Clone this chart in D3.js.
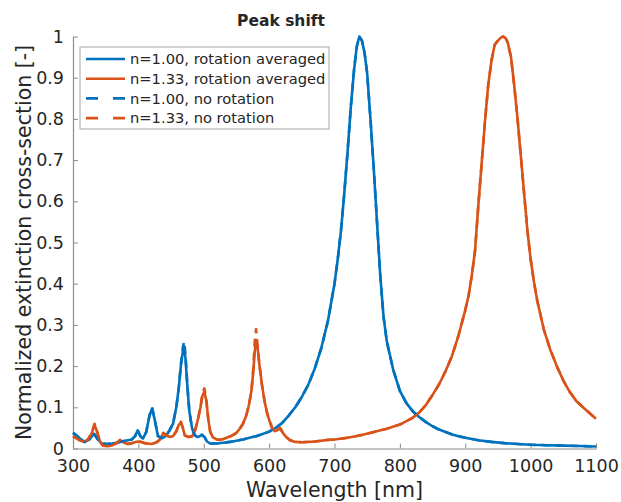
<!DOCTYPE html>
<html>
<head>
<meta charset="utf-8">
<script src="https://cdn.jsdelivr.net/npm/d3@7/dist/d3.min.js"></script>
<style>
  body { margin: 0; background: #fff; }
  svg text { font-family: "DejaVu Sans", sans-serif; fill: #262626; }
</style>
</head>
<body>
<svg id="chart" width="621" height="502"></svg>
<script>
// data
var blueWl = [300,305,310,318,325,332,338,344,352,360,370,380,390,395,399,403,407,412,417,421,425,430,436,442,448,453,458,462,465,468,470,472,475,478,482,486,490,494,497,501,505,510,520,530,540,550,560,570,580,590,600,610,620,630,640,650,660,670,680,690,700,705,710,715,720,725,730,734,738,742,746,750,755,760,765,770,775,780,790,800,810,820,830,840,850,860,870,880,890,900,920,940,960,980,1000,1025,1050,1075,1100];
var blueAvg = [0.038,0.032,0.025,0.016,0.022,0.036,0.022,0.012,0.011,0.012,0.015,0.019,0.022,0.03,0.044,0.03,0.024,0.04,0.08,0.097,0.07,0.03,0.025,0.03,0.045,0.06,0.1,0.15,0.2,0.235,0.245,0.22,0.15,0.09,0.05,0.033,0.028,0.03,0.033,0.028,0.017,0.012,0.012,0.014,0.016,0.019,0.022,0.026,0.03,0.035,0.041,0.05,0.062,0.08,0.1,0.125,0.155,0.195,0.245,0.31,0.4,0.46,0.53,0.62,0.72,0.83,0.92,0.975,1.0,0.99,0.96,0.91,0.8,0.68,0.55,0.42,0.32,0.26,0.19,0.14,0.11,0.09,0.076,0.064,0.054,0.046,0.04,0.034,0.03,0.026,0.02,0.016,0.013,0.011,0.009,0.008,0.007,0.006,0.005];
var blueNoRot = [0.038,0.032,0.025,0.016,0.022,0.037,0.022,0.012,0.011,0.012,0.015,0.019,0.022,0.03,0.045,0.03,0.024,0.04,0.08,0.1,0.07,0.03,0.025,0.03,0.045,0.06,0.1,0.15,0.205,0.245,0.26,0.23,0.15,0.09,0.05,0.033,0.028,0.03,0.034,0.028,0.017,0.012,0.012,0.014,0.016,0.019,0.022,0.026,0.03,0.035,0.041,0.05,0.062,0.08,0.1,0.125,0.155,0.195,0.245,0.31,0.4,0.46,0.53,0.62,0.72,0.83,0.92,0.975,1.0,0.99,0.96,0.91,0.8,0.68,0.55,0.42,0.32,0.26,0.19,0.14,0.11,0.09,0.076,0.064,0.054,0.046,0.04,0.034,0.03,0.026,0.02,0.016,0.013,0.011,0.009,0.008,0.007,0.006,0.005];

var orangeWl = [300,305,310,316,322,328,333,337,341,345,350,355,360,366,372,378,384,390,396,402,410,420,428,433,438,443,448,453,458,462,465,468,471,476,482,487,491,495,498,501,504,507,510,514,520,525,530,535,540,545,550,555,560,565,569,573,576,578,580,582,585,589,593,597,601,605,609,613,617,621,626,632,640,650,660,670,680,690,700,720,740,760,780,800,820,830,840,850,860,870,880,890,900,905,910,915,920,925,930,935,940,945,950,955,958,962,965,970,975,980,985,990,995,1000,1005,1010,1020,1030,1040,1050,1060,1070,1080,1090,1100];
var orangeAvg = [0.03,0.025,0.02,0.016,0.02,0.035,0.057,0.04,0.018,0.008,0.006,0.006,0.008,0.012,0.02,0.014,0.011,0.013,0.016,0.017,0.013,0.011,0.015,0.022,0.037,0.032,0.028,0.03,0.042,0.058,0.063,0.05,0.032,0.028,0.029,0.045,0.07,0.1,0.128,0.138,0.115,0.07,0.04,0.027,0.022,0.021,0.023,0.026,0.029,0.033,0.038,0.048,0.06,0.08,0.105,0.14,0.19,0.235,0.263,0.25,0.205,0.155,0.115,0.085,0.065,0.048,0.042,0.045,0.048,0.038,0.028,0.02,0.016,0.015,0.016,0.017,0.019,0.021,0.022,0.026,0.032,0.04,0.048,0.058,0.075,0.088,0.106,0.13,0.156,0.188,0.226,0.276,0.336,0.37,0.42,0.48,0.59,0.69,0.79,0.88,0.94,0.98,0.99,0.998,1.0,0.995,0.985,0.95,0.88,0.8,0.71,0.62,0.53,0.46,0.405,0.36,0.29,0.24,0.2,0.165,0.137,0.115,0.1,0.086,0.072];
var orangeNoRot = [0.03,0.025,0.02,0.016,0.02,0.036,0.06,0.04,0.018,0.008,0.006,0.006,0.008,0.012,0.021,0.014,0.011,0.013,0.016,0.017,0.013,0.011,0.015,0.022,0.038,0.032,0.028,0.03,0.042,0.058,0.065,0.05,0.032,0.028,0.029,0.045,0.07,0.1,0.135,0.146,0.118,0.07,0.04,0.027,0.022,0.021,0.023,0.026,0.029,0.033,0.038,0.048,0.06,0.08,0.105,0.14,0.2,0.26,0.29,0.255,0.205,0.155,0.115,0.085,0.065,0.048,0.042,0.046,0.05,0.038,0.028,0.02,0.016,0.015,0.016,0.017,0.019,0.021,0.022,0.026,0.032,0.04,0.048,0.058,0.075,0.088,0.106,0.13,0.156,0.188,0.226,0.276,0.336,0.37,0.42,0.48,0.59,0.69,0.79,0.88,0.94,0.98,0.99,0.998,1.0,0.995,0.985,0.95,0.88,0.8,0.71,0.62,0.53,0.46,0.405,0.36,0.29,0.24,0.2,0.165,0.137,0.115,0.1,0.086,0.072];

var xTicks = [300,400,500,600,700,800,900,1000,1100];
var yTicks = [0,0.1,0.2,0.3,0.4,0.5,0.6,0.7,0.8,0.9,1];
var legendLabels = ['n=1.00, rotation averaged', 'n=1.33, rotation averaged', 'n=1.00, no rotation', 'n=1.33, no rotation'];

(function() {

var blue = '#0072bd', orange = '#d95319';

var series = [
    {wl: blueWl, v: blueAvg, color: blue, dash: null},
    {wl: orangeWl, v: orangeAvg, color: orange, dash: null},
    {wl: blueWl, v: blueNoRot, color: blue, dash: '8,6'},
    {wl: orangeWl, v: orangeNoRot, color: orange, dash: '8,6'}
];

var svg = d3.select('#chart');

var margin = {top: 36.5, right: 25, bottom: 53.5, left: 73},
    width = +svg.attr('width') - margin.left - margin.right,
    height = +svg.attr('height') - margin.top - margin.bottom;

var x = d3.scaleLinear().domain([300, 1100]).range([0, width]);
var y = d3.scaleLinear().domain([0, 1]).range([height, 0]);

var g = svg.append('g')
    .attr('transform', 'translate(' + margin.left + ',' + margin.top + ')');

// axes, ticks pointing inward like matlab
var xAxis = g.append('g')
    .attr('transform', 'translate(0,' + height + ')')
    .call(d3.axisBottom(x).tickValues(xTicks).tickFormat(d3.format('d'))
        .tickSizeInner(-5).tickSizeOuter(0).tickPadding(11));

var yAxis = g.append('g')
    .call(d3.axisLeft(y).tickValues(yTicks).tickFormat(d3.format('~g'))
        .tickSizeInner(-5).tickSizeOuter(0).tickPadding(9));

[xAxis, yAxis].forEach(function(a) {
    a.select('.domain').attr('stroke', '#8c8c8c').attr('stroke-width', 1.2);
    a.selectAll('.tick line').attr('stroke', '#8c8c8c');
    a.selectAll('.tick text').style('font-size', '17.5px').attr('fill', '#262626');
});

var line = function(s) {
    return d3.line()
        .x(function(d, i) { return x(s.wl[i]); })
        .y(function(d) { return y(d); })(s.v);
};

g.selectAll('.curve')
    .data(series)
  .enter().append('path')
    .attr('class', 'curve')
    .attr('d', line)
    .attr('fill', 'none')
    .attr('stroke', function(d) { return d.color; })
    .attr('stroke-width', 2.6)
    .attr('stroke-linejoin', 'round')
    .attr('stroke-dasharray', function(d) { return d.dash; });

// title and labels
svg.append('text')
    .attr('x', 281).attr('y', 26)
    .attr('text-anchor', 'middle')
    .style('font-size', '15.5px').style('font-weight', 'bold')
    .attr('fill', '#000')
    .text('Peak shift');

svg.append('text')
    .attr('x', margin.left + width / 2).attr('y', 497)
    .attr('text-anchor', 'middle')
    .style('font-size', '20.5px')
    .text('Wavelength [nm]');

svg.append('text')
    .attr('transform', 'translate(31,' + (margin.top + height / 2) + ') rotate(-90)')
    .attr('text-anchor', 'middle')
    .style('font-size', '20.5px')
    .text('Normalized extinction cross-section [-]');

// legend
var leg = svg.append('g').attr('transform', 'translate(80,47)');

leg.append('rect')
    .attr('width', 249).attr('height', 82)
    .attr('fill', '#fff')
    .attr('stroke', '#a6a6a6').attr('stroke-width', 1);

var items = leg.selectAll('.item')
    .data(series)
  .enter().append('g')
    .attr('class', 'item')
    .attr('transform', function(d, i) { return 'translate(0,' + (12 + i * 19.7) + ')'; });

items.append('line')
    .attr('x1', 6).attr('x2', 45)
    .attr('stroke', function(d) { return d.color; })
    .attr('stroke-width', 2.6)
    .attr('stroke-dasharray', function(d) { return d.dash ? '12,15' : null; });

items.append('text')
    .attr('x', 50).attr('dy', '0.35em')
    .style('font-size', '14.7px')
    .text(function(d, i) { return legendLabels[i]; });

})();
</script>
</body>
</html>
